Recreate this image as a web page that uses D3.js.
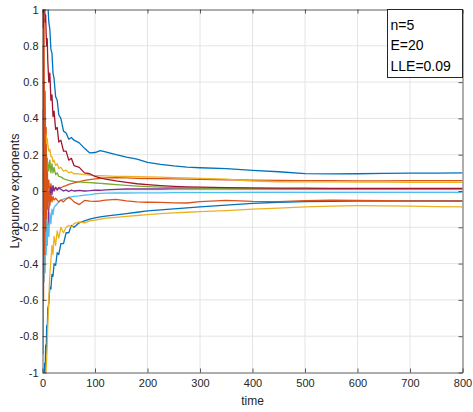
<!DOCTYPE html>
<html>
<head>
<meta charset="utf-8">
<script src="https://cdn.jsdelivr.net/npm/d3@7"></script>
<style>
  html, body { margin: 0; padding: 0; background: #fff; }
  svg text { font-family: "Liberation Sans", Arial, Helvetica, sans-serif; }
</style>
</head>
<body>
<svg id="chart" width="473" height="412"></svg>
<script>
// Sample times of the running Lyapunov exponent estimates
const time = [1,2,3,4,5,6,7,8,9,10,12,14,16,18,20,22,25,28,31,35,40,45,50,55,60,70,80,90,100,110,120,140,160,180,200,225,250,275,300,350,400,450,500,550,600,650,700,750,800];

// Running estimates of each exponent
const exponent1 = [1.5,1.35,1.6,1.3,1.45,1.2,1.3,1.12,1.15,1.04,0.93,0.89,0.78,0.76,0.65,0.62,0.52,0.5,0.42,0.4,0.33,0.32,0.285,0.295,0.28,0.265,0.235,0.21,0.212,0.222,0.215,0.2,0.187,0.176,0.158,0.147,0.138,0.132,0.128,0.123,0.114,0.106,0.096,0.094,0.095,0.097,0.098,0.099,0.1];
const exponent2 = [1.2,0.25,0.95,-0.15,0.55,0.05,0.35,-0.05,0.18,0.0,0.06,-0.02,0.04,0.0,0.025,0.005,0.02,0.01,0.02,0.018,0.025,0.03,0.036,0.04,0.045,0.052,0.058,0.063,0.067,0.07,0.072,0.073,0.072,0.07,0.069,0.068,0.067,0.065,0.064,0.062,0.06,0.058,0.057,0.057,0.056,0.056,0.057,0.057,0.057];
const exponent3 = [0.05,0.22,0.38,0.24,0.33,0.27,0.31,0.26,0.29,0.26,0.22,0.23,0.19,0.19,0.16,0.17,0.14,0.15,0.125,0.13,0.11,0.115,0.1,0.105,0.095,0.094,0.09,0.087,0.085,0.084,0.083,0.081,0.08,0.079,0.078,0.076,0.074,0.072,0.07,0.065,0.055,0.051,0.05,0.05,0.049,0.049,0.048,0.048,0.048];
const exponent4 = [0.45,-0.3,0.2,-0.18,0.08,-0.15,-0.26,-0.3,-0.2,-0.24,-0.1,-0.04,0.02,-0.02,0.03,0.0,0.02,0.005,0.015,0.01,0.0,0.006,-0.003,0.005,0.0,0.004,0.0,0.002,0.005,0.004,0.006,0.009,0.011,0.012,0.011,0.011,0.012,0.012,0.012,0.012,0.012,0.012,0.012,0.012,0.012,0.012,0.012,0.012,0.012];
const exponent5 = [0.0,0.15,0.05,0.2,0.1,0.22,0.12,0.19,0.11,0.16,0.11,0.17,0.1,0.15,0.1,0.13,0.09,0.1,0.08,0.078,0.068,0.062,0.058,0.055,0.053,0.05,0.048,0.046,0.044,0.042,0.04,0.035,0.031,0.027,0.024,0.021,0.019,0.017,0.016,0.014,0.013,0.012,0.011,0.011,0.01,0.01,0.01,0.01,0.01];
const exponent6 = [-0.9,-0.3,-0.5,-0.2,-0.45,-0.25,-0.35,-0.15,-0.3,-0.18,-0.25,-0.12,-0.18,-0.1,-0.13,-0.09,-0.08,-0.07,-0.06,-0.05,-0.045,-0.04,-0.035,-0.032,-0.03,-0.027,-0.023,-0.02,-0.016,-0.013,-0.012,-0.011,-0.011,-0.01,-0.01,-0.01,-0.009,-0.009,-0.009,-0.009,-0.008,-0.008,-0.008,-0.008,-0.008,-0.008,-0.008,-0.008,-0.008];
const exponent7 = [0.9,1.3,1.1,1.02,0.93,0.97,0.86,0.8,0.84,0.72,0.6,0.65,0.5,0.53,0.41,0.44,0.34,0.35,0.27,0.28,0.22,0.22,0.17,0.18,0.14,0.13,0.1,0.095,0.08,0.072,0.066,0.056,0.048,0.04,0.035,0.03,0.026,0.023,0.021,0.019,0.017,0.016,0.016,0.015,0.015,0.015,0.015,0.015,0.015];
const exponent8 = [-1.4,-1.1,-1.2,-0.95,-1.0,-0.85,-0.9,-0.74,-0.78,-0.65,-0.62,-0.53,-0.54,-0.46,-0.47,-0.4,-0.41,-0.34,-0.35,-0.29,-0.29,-0.23,-0.23,-0.19,-0.2,-0.175,-0.165,-0.155,-0.148,-0.142,-0.138,-0.132,-0.125,-0.117,-0.11,-0.104,-0.098,-0.093,-0.087,-0.078,-0.068,-0.062,-0.058,-0.057,-0.056,-0.056,-0.055,-0.055,-0.055];
const exponent9 = [0.8,-0.6,0.6,-0.35,0.4,-0.22,0.2,-0.15,0.1,-0.1,0.0,-0.08,-0.02,-0.06,-0.03,-0.05,-0.04,-0.05,-0.06,-0.05,-0.06,-0.045,-0.035,-0.045,-0.06,-0.075,-0.052,-0.056,-0.057,-0.055,-0.05,-0.046,-0.054,-0.06,-0.062,-0.063,-0.065,-0.066,-0.058,-0.052,-0.057,-0.058,-0.053,-0.05,-0.052,-0.053,-0.054,-0.054,-0.054];
const exponent10 = [-1.5,-1.3,-1.15,-1.2,-1.05,-1.08,-0.98,-0.92,-0.85,-0.75,-0.6,-0.46,-0.38,-0.3,-0.35,-0.25,-0.3,-0.22,-0.26,-0.2,-0.23,-0.2,-0.19,-0.2,-0.18,-0.17,-0.175,-0.165,-0.16,-0.155,-0.15,-0.145,-0.14,-0.135,-0.13,-0.125,-0.12,-0.117,-0.114,-0.108,-0.1,-0.094,-0.087,-0.083,-0.081,-0.082,-0.083,-0.086,-0.088];

const exponents = [exponent1, exponent2, exponent3, exponent4, exponent5, exponent6, exponent7, exponent8, exponent9, exponent10];
const lineColors = ["#0072BD","#D95319","#EDB120","#7E2F8E","#77AC30","#4DBEEE","#A2142F","#0072BD","#D95319","#EDB120"];

const xTicks = [0,100,200,300,400,500,600,700,800];
const yTicks = [-1,-0.8,-0.6,-0.4,-0.2,0,0.2,0.4,0.6,0.8,1];
const legendLines = ["n=5", "E=20", "LLE=0.09"];

const svg = d3.select("#chart");
svg.append("rect").attr("width", 473).attr("height", 412).attr("fill", "#fff");

const x = d3.scaleLinear().domain([0, 800]).range([42.5, 462.5]);
const y = d3.scaleLinear().domain([-1, 1]).range([372.5, 9.5]);

const axisColor = "#262626";
const fmtY = v => v === 0 ? "0" : String(+v.toFixed(1));

// Grid
const grid = svg.append("g");
grid.selectAll("line.gx").data(xTicks.slice(1, -1)).enter().append("line")
  .attr("x1", d => x(d)).attr("x2", d => x(d))
  .attr("y1", y(1)).attr("y2", y(-1))
  .attr("stroke", "#e4e4e4").attr("stroke-width", 1);
grid.selectAll("line.gy").data(yTicks.slice(1, -1)).enter().append("line")
  .attr("x1", x(0)).attr("x2", x(800))
  .attr("y1", d => y(d)).attr("y2", d => y(d))
  .attr("stroke", "#e4e4e4").attr("stroke-width", 1);

// Exponent traces
svg.append("clipPath").attr("id", "plotClip")
  .append("rect").attr("x", x(0)).attr("y", y(1))
  .attr("width", x(800) - x(0)).attr("height", y(-1) - y(1));

const line = d3.line().x((d, i) => x(time[i])).y(d => y(d));
svg.append("g").attr("clip-path", "url(#plotClip)")
  .selectAll("path").data(exponents).enter().append("path")
  .attr("d", d => line(d))
  .attr("fill", "none")
  .attr("stroke", (d, i) => lineColors[i])
  .attr("stroke-width", 1.3)
  .attr("stroke-linejoin", "round");

// Axes (box with inward ticks)
function styleAxis(g) {
  g.select(".domain").attr("stroke", axisColor).attr("stroke-width", 1).attr("stroke-opacity", 0.75);
  g.selectAll(".tick line").attr("stroke", axisColor).attr("stroke-opacity", 0.75);
  g.selectAll(".tick text").attr("fill", axisColor).style("font-size", "11px");
}
svg.append("g").attr("transform", `translate(0,${y(-1)})`)
  .call(d3.axisBottom(x).tickValues(xTicks).tickSizeInner(-4).tickSizeOuter(0).tickPadding(7))
  .call(styleAxis);
svg.append("g").attr("transform", `translate(0,${y(1)})`)
  .call(d3.axisTop(x).tickValues(xTicks).tickSizeInner(-4).tickSizeOuter(0).tickFormat(""))
  .call(styleAxis);
svg.append("g").attr("transform", `translate(${x(0)},0)`)
  .call(d3.axisLeft(y).tickValues(yTicks).tickSizeInner(-4).tickSizeOuter(0).tickPadding(4).tickFormat(fmtY))
  .call(styleAxis);
svg.append("g").attr("transform", `translate(${x(800)},0)`)
  .call(d3.axisRight(y).tickValues(yTicks).tickSizeInner(-4).tickSizeOuter(0).tickFormat(""))
  .call(styleAxis);
svg.selectAll(".tick text").attr("font-family", null);

// Axis titles
svg.append("text").attr("x", (x(0) + x(800)) / 2).attr("y", 405)
  .attr("text-anchor", "middle").attr("fill", axisColor)
  .style("font-size", "12px").text("time");
svg.append("text").attr("transform", `translate(18.5,${y(0)}) rotate(-90)`)
  .attr("text-anchor", "middle").attr("fill", axisColor)
  .style("font-size", "12.5px").text("Lyapunov exponents");

// Annotation box
const box = svg.append("g");
box.append("rect").attr("x", 387.5).attr("y", 9.5).attr("width", 75).attr("height", 68)
  .attr("fill", "#fff").attr("stroke", axisColor).attr("stroke-width", 1);
box.selectAll("text").data(legendLines).enter().append("text")
  .attr("x", 390.5).attr("y", (d, i) => 29.5 + i * 20.7)
  .attr("fill", "#000").style("font-size", "14px")
  .text(d => d);
</script>
</body>
</html>
